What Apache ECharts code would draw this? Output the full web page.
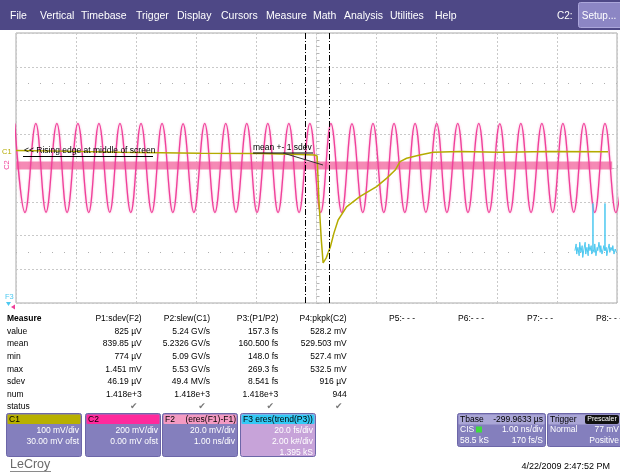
<!DOCTYPE html>
<html>
<head>
<meta charset="utf-8">
<title>LeCroy - rising edge</title>
<script src="https://cdn.jsdelivr.net/npm/echarts@6/dist/echarts.min.js"></script>
<style>
  html, body { margin: 0; padding: 0; background: #fff; }
  #main { width: 620px; height: 474px; }
</style>
</head>
<body>
<div id="main"></div>
<script>
  // time axis in ns, 1 ns/div, 0 = centre of screen
  // C2 sine: crest / trough times (200 mV/div, 0 mV ofst)
  const c2Times = [-5.02, -4.85, -4.67, -4.50, -4.32, -4.15, -3.97, -3.79, -3.62, -3.44,
    -3.27, -3.09, -2.92, -2.74, -2.57, -2.39, -2.22, -2.04, -1.86, -1.69,
    -1.51, -1.34, -1.16, -0.99, -0.81, -0.64, -0.46, -0.29, -0.11, 0.07,
    0.24, 0.42, 0.59, 0.77, 0.94, 1.12, 1.29, 1.47, 1.64, 1.82,
    2.00, 2.17, 2.35, 2.52, 2.70, 2.87, 3.05, 3.22, 3.40, 3.57,
    3.75, 3.93, 4.10, 4.28, 4.45, 4.63, 4.80, 4.98, 5.15]
  const c2Mv = [264, -264, 265, -263, 264, -264, 265, -264, 264, -263,
    264, -264, 265, -264, 264, -264, 263, -264, 265, -264,
    264, -263, 264, -264, 265, -264, 264, -264, 264, -265,
    264, -264, 263, -264, 264, -264, 265, -264, 264, -263,
    264, -264, 265, -264, 264, -264, 263, -264, 264, -264,
    265, -264, 264, -263, 264, -264, 264, -265, 264]

  // C1 rising edge (100 mV/div, 30 mV ofst)
  const c1Times = [-5.00, -4.27, -3.27, -1.94, -0.94, -0.27, -0.03, 0.01, 0.04, 0.08,
    0.11, 0.16, 0.23, 0.29, 0.36, 0.50, 0.72, 1.00, 1.17, 1.31,
    1.39, 1.50, 1.72, 1.94, 2.39, 3.05, 3.89, 4.85]
  const c1Mv = [22, 20, 17, 14, 13, 10, 8.5, 5.6, -125, -243,
    -311, -297, -264, -223, -184, -145, -115, -85, -60, -36,
    -11, -1, 8.5, 16.5, 19, 17, 19, 18]

  // F2 = eres(F1)-F1, 20 mV/div, a thin noise band
  const f2Times = [-5.00, 4.92]
  const f2Mv = [1.5, 1.5]

  // F3 = eres(trend(P3)), only the last bit is on screen (in div)
  const f3Times = [4.30, 4.32, 4.33, 4.35, 4.37, 4.38, 4.40, 4.42, 4.43, 4.45,
    4.47, 4.48, 4.50, 4.52, 4.53, 4.55, 4.57, 4.58, 4.60, 4.60,
    4.60, 4.62, 4.63, 4.65, 4.67, 4.68, 4.70, 4.72, 4.73, 4.75,
    4.77, 4.78, 4.80, 4.80, 4.80, 4.82, 4.83, 4.85, 4.87, 4.88,
    4.90, 4.92, 4.93, 4.95, 4.97, 4.99]
  const f3Div = [-2.45, -2.25, -2.55, -2.35, -2.60, -2.20, -2.50, -2.30, -2.65, -2.40,
    -2.20, -2.55, -2.35, -2.60, -2.25, -2.45, -2.30, -2.55, -2.40, -1.05,
    -2.40, -2.50, -2.25, -2.60, -2.35, -2.45, -2.20, -2.50, -2.30, -2.55,
    -2.40, -2.30, -2.45, -1.05, -2.45, -2.35, -2.60, -2.40, -2.25, -2.50,
    -2.35, -2.45, -2.30, -2.55, -2.40, -2.50]

  // mean +- 1 sdev cursors (ns)
  const cursorTimes = [-0.18, 0.22]
  const dotRows = [2.5, -2.5]

  // channel scales: mV/div and offset
  const c1Scale = 100, c1Ofst = 30
  const c2Scale = 200
  const f2Scale = 20

  const menuItems = ['File', 'Vertical', 'Timebase', 'Trigger', 'Display', 'Cursors', 'Measure', 'Math', 'Analysis', 'Utilities', 'Help']
  const menuX = [10, 40, 81, 136, 177, 221, 266, 313, 344, 390, 435]

  const measureRows = ['value', 'mean', 'min', 'max', 'sdev', 'num', 'status']
  const paramNames = ['P1:sdev(F2)', 'P2:slew(C1)', 'P3:(P1/P2)', 'P4:pkpk(C2)']
  const p1Vals = ['825 µV', '839.85 µV', '774 µV', '1.451 mV', '46.19 µV', '1.418e+3']
  const p2Vals = ['5.24 GV/s', '5.2326 GV/s', '5.09 GV/s', '5.53 GV/s', '49.4 MV/s', '1.418e+3']
  const p3Vals = ['157.3 fs', '160.500 fs', '148.0 fs', '269.3 fs', '8.541 fs', '1.418e+3']
  const p4Vals = ['528.2 mV', '529.503 mV', '527.4 mV', '532.5 mV', '916 µV', '944']
  const emptyParams = ['P5:- - -', 'P6:- - -', 'P7:- - -', 'P8:- - -']

  const FONT = '"Liberation Sans", Arial, sans-serif'

  function txt(x, y, s, o) {
    o = o || {}
    return {
      type: 'text', x: x, y: y, z: o.z || 20, silent: true,
      rotation: o.rotation || 0,
      style: {
        text: s,
        fill: o.color || '#000',
        font: (o.bold ? 'bold ' : '') + (o.size || 8.5) + 'px ' + (o.family || FONT),
        textAlign: o.align || 'left',
        textVerticalAlign: 'middle'
      }
    }
  }
  function rect(x, y, w, h, fill, stroke, r, z) {
    return {
      type: 'rect', z: z || 10, silent: true,
      shape: { x: x, y: y, width: w, height: h, r: r || 0 },
      style: { fill: fill, stroke: stroke || null, lineWidth: 1 }
    }
  }
  function seg(x1, y1, x2, y2, color, w) {
    return {
      type: 'line', z: 30, silent: true,
      shape: { x1: x1, y1: y1, x2: x2, y2: y2 },
      style: { stroke: color, lineWidth: w || 1 }
    }
  }

  const graphics = []

  // menu bar
  graphics.push(rect(0, 0, 620, 30, '#4e4886'))
  menuItems.forEach((m, i) => graphics.push(txt(menuX[i], 16, m, { color: '#fff', size: 10.5 })))
  graphics.push(txt(557, 16, 'C2:', { color: '#fff', size: 10 }))
  graphics.push(rect(578.5, 2.5, 44, 25, '#8c86c4', '#aba6da', 2))
  graphics.push(txt(599, 16, 'Setup...', { color: '#fff', size: 10, align: 'center' }))

  // annotations on the grid
  graphics.push(txt(24, 151, '<< Rising edge at middle of screen', { size: 8.5, z: 40 }))
  graphics.push(seg(23, 156.5, 153, 156.5, '#000'))
  graphics.push(txt(253, 147.5, 'mean +- 1 sdev', { size: 8.5, z: 40 }))
  graphics.push(seg(253, 153, 313, 153, '#000'))
  graphics.push(seg(283, 153, 323, 165, '#333'))

  // trace labels at the left edge
  graphics.push(txt(2, 152, 'C1', { color: '#b4ab00', size: 7.5 }))
  graphics.push(txt(7, 165, 'C2', { color: '#f0409a', size: 7.5, rotation: Math.PI / 2, align: 'center' }))
  graphics.push(txt(5, 297, 'F3', { color: '#4cc8f0', size: 7.5 }))
  graphics.push({ type: 'polygon', z: 30, silent: true, shape: { points: [[6, 302], [11, 302], [8.5, 306]] }, style: { fill: '#4cc8f0' } })
  graphics.push({ type: 'polygon', z: 30, silent: true, shape: { points: [[11, 307], [15, 304.5], [15, 309.5]] }, style: { fill: '#f0409a' } })

  // measure table
  graphics.push(txt(7, 319, 'Measure', { bold: true }))
  const colRight = [141.7, 210, 278.3, 346.7]
  const colVals = [p1Vals, p2Vals, p3Vals, p4Vals]
  paramNames.forEach((p, i) => graphics.push(txt(colRight[i], 319, p, { align: 'right' })))
  emptyParams.forEach((p, i) => graphics.push(txt(389 + i * 69, 319, p)))
  measureRows.forEach((r, j) => {
    const y = 331.6 + j * 12.55
    graphics.push(txt(7, y, r))
    colVals.forEach((vals, i) => {
      if (j < vals.length) {
        graphics.push(txt(colRight[i], y, vals[j], { align: 'right' }))
      } else {
        graphics.push(txt(colRight[i] - 8, y, '✔', { align: 'center', color: '#777', size: 9, family: '"DejaVu Sans", sans-serif' }))
      }
    })
  })

  // channel descriptor boxes
  const chanBoxes = [
    { x: 6, head: '#b8b000', body: '#847fbd', left: 'C1', right: '', lines: ['100 mV/div', '30.00 mV ofst'] },
    { x: 85, head: '#ff2a9c', body: '#847fbd', left: 'C2', right: '', lines: ['200 mV/div', '0.00 mV ofst'] },
    { x: 162, head: '#f49ac2', body: '#847fbd', left: 'F2', right: '(eres(F1)-F1)', lines: ['20.0 mV/div', '1.00 ns/div'] },
    { x: 240, head: '#33c9f5', body: '#c7a3d9', left: 'F3 eres(trend(P3))', right: '', lines: ['20.0 fs/div', '2.00 k#/div', '1.395 kS'] }
  ]
  chanBoxes.forEach((b) => {
    graphics.push(rect(b.x + 0.5, 413.5, 75, 43, b.body, '#6c66a8', 2))
    graphics.push(rect(b.x + 1.5, 414.5, 73, 9.5, b.head, null, 1, 11))
    graphics.push(txt(b.x + 3, 419.3, b.left, { size: 8.5 }))
    if (b.right) graphics.push(txt(b.x + 74, 419.3, b.right, { size: 8.5, align: 'right' }))
    b.lines.forEach((l, i) => graphics.push(txt(b.x + 73, 430.7 + i * 11, l, { color: '#fff', align: 'right' })))
  })

  // timebase / trigger boxes
  graphics.push(rect(457.5, 413.5, 88, 33, '#847fbd', '#6c66a8', 2))
  graphics.push(rect(458.5, 414.5, 86, 10, '#aaa6d6', null, 1, 11))
  graphics.push(txt(460, 419.5, 'Tbase'))
  graphics.push(txt(543, 419.5, '-299.9633 µs', { align: 'right' }))
  graphics.push(txt(460, 430, 'CIS', { color: '#fff' }))
  graphics.push(rect(476, 426.5, 6, 6, '#3ddc3d', null, 0, 12))
  graphics.push(txt(543, 430, '1.00 ns/div', { color: '#fff', align: 'right' }))
  graphics.push(txt(460, 440.5, '58.5 kS', { color: '#fff' }))
  graphics.push(txt(543, 440.5, '170 fs/S', { color: '#fff', align: 'right' }))

  graphics.push(rect(547.5, 413.5, 76, 33, '#847fbd', '#6c66a8', 2))
  graphics.push(rect(548.5, 414.5, 74, 10, '#aaa6d6', null, 1, 11))
  graphics.push(txt(550, 419.5, 'Trigger'))
  graphics.push(rect(585, 415, 34, 9, '#111', null, 2, 12))
  graphics.push(txt(602, 419.5, 'Prescaler', { color: '#fff', size: 7, align: 'center' }))
  graphics.push(txt(550, 430, 'Normal', { color: '#fff' }))
  graphics.push(txt(619, 430, '77 mV', { color: '#fff', align: 'right' }))
  graphics.push(txt(619, 440.5, 'Positive', { color: '#fff', align: 'right' }))

  // footer
  graphics.push(txt(10, 465, 'LeCroy', { color: '#6a6a6a', size: 12.5 }))
  graphics.push(seg(10, 471.5, 51, 471.5, '#8a8a8a'))
  graphics.push(txt(610, 466.5, '4/22/2009 2:47:52 PM', { size: 9, align: 'right' }))

  const chart = echarts.init(document.getElementById('main'), null, { renderer: 'canvas' })

  const gridDash = { color: '#c9c9c9', type: [2, 2], width: 1 }

  const markLines = cursorTimes.map((t) => ({
    xAxis: t,
    lineStyle: { color: '#000', type: [6, 2, 1, 2], width: 1 }
  })).concat(dotRows.map((d) => ({
    yAxis: d,
    lineStyle: { color: '#b0b0b0', type: [1, 11], width: 1 }
  })))

  chart.setOption({
    animation: false,
    backgroundColor: '#fff',
    grid: {
      left: 16, top: 33, width: 601, height: 270,
      show: true, borderColor: '#a9a9a9', borderWidth: 1, backgroundColor: '#fff'
    },
    xAxis: {
      type: 'value', min: -5, max: 5, interval: 1,
      axisLabel: { show: false },
      axisLine: { show: true, onZero: true, lineStyle: gridDash },
      axisTick: { show: true, inside: true, length: 3, lineStyle: { color: '#b5b5b5' } },
      minorTick: { show: true, splitNumber: 5, length: 3, lineStyle: { color: '#b5b5b5' } },
      splitLine: { show: true, lineStyle: gridDash }
    },
    yAxis: {
      type: 'value', min: -4, max: 4, interval: 1,
      axisLabel: { show: false },
      axisLine: { show: true, onZero: true, lineStyle: gridDash },
      axisTick: { show: true, inside: true, length: 3, lineStyle: { color: '#b5b5b5' } },
      minorTick: { show: true, splitNumber: 5, length: 3, lineStyle: { color: '#b5b5b5' } },
      splitLine: { show: true, lineStyle: gridDash }
    },
    graphic: { elements: graphics },
    series: [
      {
        name: 'F2',
        type: 'line',
        symbol: 'none',
        data: f2Times.map((t, i) => [t, f2Mv[i] / f2Scale]),
        lineStyle: { color: '#f58ab5', width: 8, cap: 'butt' },
        z: 2,
        markLine: {
          silent: true,
          symbol: 'none',
          label: { show: false },
          data: markLines
        }
      },
      {
        name: 'C2',
        type: 'line',
        symbol: 'none',
        smooth: 0.4,
        data: c2Times.map((t, i) => [t, c2Mv[i] / c2Scale]),
        lineStyle: { color: '#f0409a', width: 1.3, shadowBlur: 2, shadowColor: 'rgba(240, 64, 154, 0.5)' },
        z: 3
      },
      {
        name: 'C1',
        type: 'line',
        symbol: 'none',
        data: c1Times.map((t, i) => [t, (c1Mv[i] + c1Ofst) / c1Scale]),
        lineStyle: { color: '#b4ab00', width: 1.5 },
        z: 4
      },
      {
        name: 'F3',
        type: 'line',
        symbol: 'none',
        data: f3Times.map((t, i) => [t, f3Div[i]]),
        lineStyle: { color: '#4cc8f0', width: 1 },
        z: 5
      }
    ]
  })
</script>
</body>
</html>
